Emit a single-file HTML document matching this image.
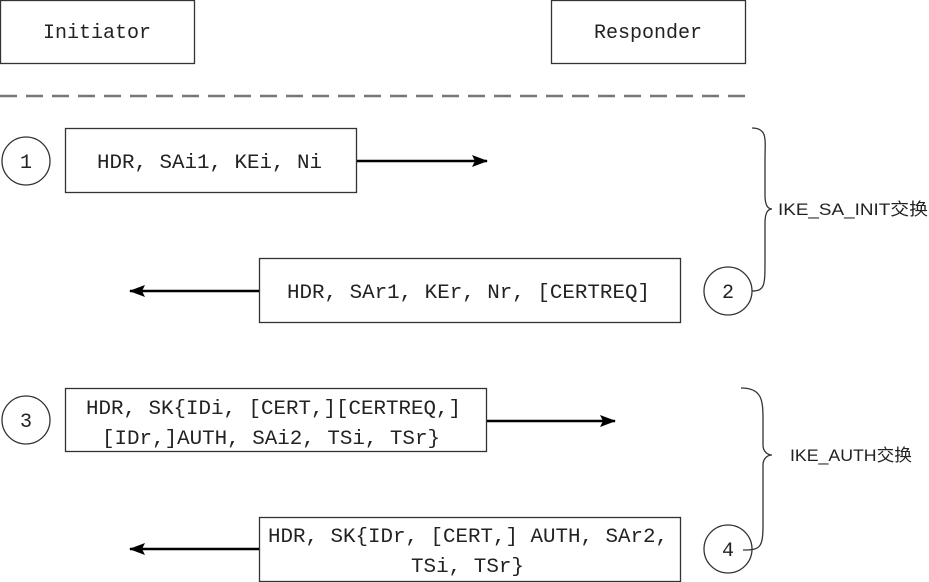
<!DOCTYPE html>
<html><head><meta charset="utf-8"><style>html,body{margin:0;padding:0;background:#fff}svg{display:block}</style></head>
<body>
<svg width="929" height="582" viewBox="0 0 929 582" xmlns="http://www.w3.org/2000/svg">
<defs>
<marker id="ah" viewBox="0 0 16 12" markerWidth="16" markerHeight="12" refX="15" refY="6" orient="auto" markerUnits="userSpaceOnUse"><path d="M0,0 L16,6 L0,12 L3,6 Z" fill="#000"/></marker></defs>
<g fill="none" stroke="#333" stroke-width="1.3">
<rect x="0.5" y="0.5" width="194" height="63"/>
<rect x="551.5" y="0.5" width="194" height="63"/>
<line x1="0" y1="96" x2="745" y2="96" stroke="#777" stroke-width="2.5" stroke-dasharray="17,9"/>
<circle cx="26" cy="161" r="24"/>
<rect x="65.5" y="128.5" width="291" height="64"/>
<rect x="259.5" y="258.5" width="421" height="64"/>
<circle cx="728" cy="291" r="24"/>
<circle cx="26" cy="420" r="24"/>
<rect x="65.5" y="388.5" width="421" height="63"/>
<rect x="259.5" y="517.5" width="421" height="64"/>
<circle cx="728" cy="549" r="24"/>
<path d="M752,128 C768,128 765,140 765,160 L765,195 C765,205 768,209 772,209 C768,209 765,213 765,223 L765,260 C765,285 765,291 752,291"/>
<path d="M741,388 C762,388 763,400 763,420 L763,445 C763,452 768,455 772,455 C768,455 763,458 763,465 L763,525 C763,548 760,550 743,550"/>
</g>
<g stroke="#000" stroke-width="2.5" marker-end="url(#ah)">
<line x1="357" y1="161" x2="487" y2="161"/>
<line x1="259" y1="291" x2="130" y2="291"/>
<line x1="487" y1="421" x2="615" y2="421"/>
<line x1="259" y1="549" x2="130" y2="549"/>
</g>
<g font-family="'Liberation Mono', monospace" font-size="20" fill="#222">
<text x="97" y="38" text-anchor="middle">Initiator</text>
<text x="648" y="38" text-anchor="middle">Responder</text>
<text x="26" y="168" text-anchor="middle">1</text>
<text x="728" y="298" text-anchor="middle">2</text>
<text x="26" y="427" text-anchor="middle">3</text>
<text x="728" y="556" text-anchor="middle">4</text>
<text x="97" y="168" textLength="225" lengthAdjust="spacingAndGlyphs">HDR, SAi1, KEi, Ni</text>
<text x="287" y="298" textLength="363" lengthAdjust="spacingAndGlyphs">HDR, SAr1, KEr, Nr, [CERTREQ]</text>
<text x="86" y="414" textLength="375" lengthAdjust="spacingAndGlyphs">HDR, SK{IDi, [CERT,][CERTREQ,]</text>
<text x="102" y="444" textLength="338" lengthAdjust="spacingAndGlyphs">[IDr,]AUTH, SAi2, TSi, TSr}</text>
<text x="268" y="542" textLength="400" lengthAdjust="spacingAndGlyphs">HDR, SK{IDr, [CERT,] AUTH, SAr2,</text>
<text x="411" y="572" textLength="113" lengthAdjust="spacingAndGlyphs">TSi, TSr}</text>
</g>
<g font-family="'Liberation Sans', 'Noto Sans CJK SC', sans-serif" font-size="17" fill="#222">
<text x="778" y="215" textLength="150" lengthAdjust="spacingAndGlyphs">IKE_SA_INIT交换</text>
<text x="790" y="461" textLength="122" lengthAdjust="spacingAndGlyphs">IKE_AUTH交换</text>
</g>
</svg>
</body></html>
